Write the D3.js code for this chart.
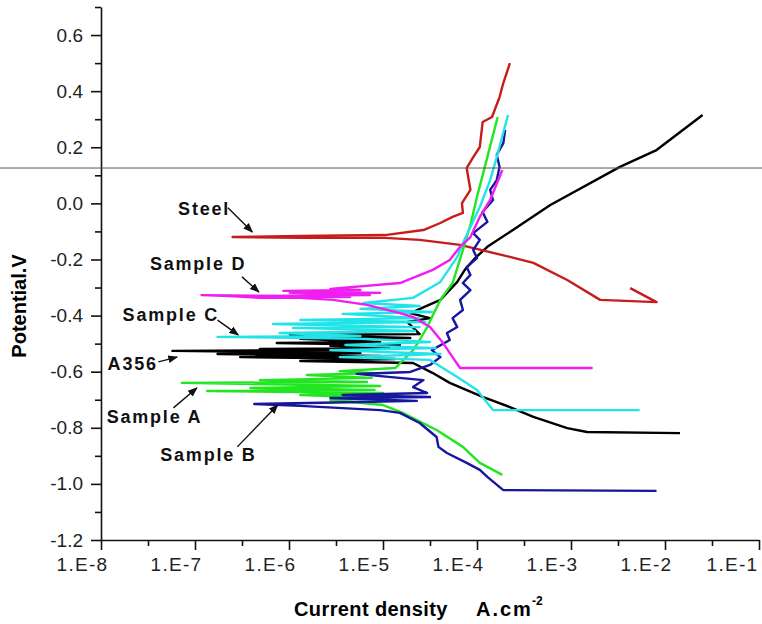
<!DOCTYPE html>
<html>
<head>
<meta charset="utf-8">
<script src="https://cdn.jsdelivr.net/npm/d3@7"></script>
<style>
  body { margin: 0; background: #fff; }
  text { font-family: "Liberation Sans", Arial, sans-serif; }
</style>
</head>
<body>
<svg id="chart" width="762" height="624"></svg>
<script>
// polarization curves: [log10 current density (A/cm2), potential (V)]
const a356 = [
  [-1.84, -0.819], [-2.83, -0.815], [-3.04, -0.801], [-3.40, -0.761], [-3.65, -0.726],
  [-3.94, -0.690], [-4.29, -0.640], [-4.47, -0.605], [-4.68, -0.569], [-5.88, -0.562],
  [-4.87, -0.555], [-6.52, -0.548], [-5.03, -0.544], [-6.76, -0.537], [-5.24, -0.533],
  [-7.24, -0.526], [-5.35, -0.523], [-6.31, -0.519], [-4.93, -0.516], [-5.56, -0.508],
  [-4.82, -0.505], [-6.13, -0.498], [-5.03, -0.494], [-5.88, -0.483], [-4.71, -0.480],
  [-5.99, -0.469], [-4.61, -0.466], [-4.74, -0.423], [-4.50, -0.409], [-4.71, -0.391],
  [-4.39, -0.344], [-4.21, -0.280], [-4.13, -0.237], [-4.02, -0.195], [-3.89, -0.155],
  [-3.65, -0.102], [-3.22, -0.006], [-2.48, 0.130], [-2.09, 0.190], [-1.60, 0.315]
];
const steel = [
  [-2.37, -0.302], [-2.09, -0.352], [-2.69, -0.344], [-3.04, -0.273], [-3.40, -0.212],
  [-3.65, -0.191], [-4.18, -0.148], [-4.61, -0.130], [-4.98, -0.123], [-5.88, -0.123],
  [-6.60, -0.120], [-5.88, -0.116], [-4.98, -0.113], [-4.57, -0.095], [-4.39, -0.070],
  [-4.26, -0.048], [-4.15, -0.034], [-4.16, 0.001], [-4.07, 0.048], [-4.11, 0.126],
  [-4.04, 0.165], [-3.97, 0.201], [-3.94, 0.290], [-3.84, 0.308], [-3.76, 0.379],
  [-3.72, 0.429], [-3.65, 0.500]
];
const sampleA = [
  [-3.73, -0.968], [-3.97, -0.925], [-4.15, -0.868], [-4.43, -0.808], [-4.79, -0.747],
  [-5.00, -0.719], [-5.56, -0.701], [-4.93, -0.694], [-5.88, -0.683], [-5.00, -0.676],
  [-6.87, -0.669], [-5.09, -0.665], [-6.41, -0.658], [-5.03, -0.651], [-7.14, -0.640],
  [-5.17, -0.637], [-6.31, -0.630], [-5.12, -0.622], [-5.81, -0.612], [-5.09, -0.605],
  [-5.46, -0.598], [-4.87, -0.587], [-4.68, -0.523], [-4.61, -0.487], [-4.53, -0.441],
  [-4.39, -0.344], [-4.26, -0.284], [-4.20, -0.220], [-4.15, -0.166], [-4.07, -0.077],
  [-4.00, 0.023], [-3.89, 0.165], [-3.78, 0.308]
];
const sampleB = [
  [-2.09, -1.025], [-3.72, -1.022], [-3.89, -0.975], [-3.97, -0.950], [-4.11, -0.925],
  [-4.32, -0.890], [-4.41, -0.868], [-4.43, -0.833], [-4.61, -0.783], [-4.82, -0.747],
  [-5.03, -0.737], [-5.88, -0.722], [-6.37, -0.715], [-5.24, -0.708], [-4.64, -0.704],
  [-5.56, -0.694], [-4.50, -0.690], [-5.43, -0.683], [-4.53, -0.676], [-4.68, -0.655],
  [-4.57, -0.630], [-5.28, -0.608], [-4.71, -0.601], [-4.50, -0.576], [-4.39, -0.548],
  [-4.48, -0.523], [-4.29, -0.487], [-4.32, -0.462], [-4.21, -0.441], [-4.26, -0.409],
  [-4.15, -0.380], [-4.18, -0.344], [-4.07, -0.309], [-4.15, -0.284], [-4.07, -0.255],
  [-4.11, -0.227], [-4.00, -0.195], [-4.04, -0.166], [-3.97, -0.130], [-4.04, -0.106],
  [-3.89, -0.066], [-3.94, -0.031], [-3.83, 0.012], [-3.86, 0.048], [-3.79, 0.083],
  [-3.76, 0.130], [-3.79, 0.173], [-3.72, 0.215], [-3.70, 0.262]
];
const sampleC = [
  [-2.27, -0.737], [-3.83, -0.737], [-4.00, -0.665], [-4.21, -0.619], [-4.50, -0.558],
  [-5.46, -0.548], [-4.39, -0.537], [-5.56, -0.523], [-4.44, -0.516], [-5.40, -0.505],
  [-4.50, -0.494], [-5.17, -0.483], [-6.76, -0.476], [-5.24, -0.473], [-6.10, -0.462],
  [-4.66, -0.455], [-5.96, -0.444], [-4.61, -0.441], [-6.17, -0.430], [-4.55, -0.423],
  [-5.88, -0.416], [-4.61, -0.409], [-5.43, -0.394], [-4.48, -0.387], [-5.24, -0.376],
  [-4.61, -0.366], [-5.21, -0.355], [-4.68, -0.337], [-4.39, -0.280], [-4.21, -0.191],
  [-4.15, -0.141], [-4.07, -0.084], [-3.97, -0.013], [-3.86, 0.083], [-3.79, 0.165],
  [-3.67, 0.315]
];
const sampleD = [
  [-2.77, -0.587], [-4.18, -0.587], [-4.26, -0.548], [-4.36, -0.498], [-4.50, -0.441],
  [-4.68, -0.405], [-4.82, -0.391], [-5.17, -0.362], [-5.53, -0.344], [-5.88, -0.337],
  [-6.31, -0.337], [-6.63, -0.330], [-6.93, -0.327], [-5.35, -0.334], [-6.41, -0.330],
  [-5.14, -0.327], [-5.99, -0.319], [-5.03, -0.319], [-6.06, -0.312], [-5.24, -0.309],
  [-5.56, -0.305], [-4.82, -0.284], [-4.47, -0.237], [-4.29, -0.202], [-4.18, -0.155],
  [-4.07, -0.120], [-3.97, -0.048], [-3.86, 0.012], [-3.73, 0.119]
];

const seriesNames = ["A356", "Steel", "Sample A", "Sample B", "Sample C", "Sample D"];
const seriesData = [a356, steel, sampleA, sampleB, sampleC, sampleD];
const seriesColors = ["#000000", "#c81c1c", "#22e622", "#16169e", "#22e4e8", "#f01ef0"];

// label text, label anchor and arrow (data units: log10 current, potential)
const labelText = ["Steel", "Sample D", "Sample C", "A356", "Sample A", "Sample B"];
const labelAt = [[-7.18, -0.041], [-7.48, -0.237], [-7.77, -0.419], [-7.93, -0.594], [-7.94, -0.783], [-7.37, -0.918]];
const arrowFrom = [[-6.65, -0.016], [-6.50, -0.262], [-6.76, -0.416], [-7.39, -0.565], [-7.23, -0.729], [-6.55, -0.868]];
const arrowTo = [[-6.39, -0.102], [-6.32, -0.316], [-6.54, -0.469], [-7.19, -0.548], [-6.98, -0.658], [-6.12, -0.719]];

const xMajor = [1e-8, 1e-7, 1e-6, 1e-5, 1e-4, 1e-3, 1e-2, 1e-1];
const xLabels = ["1.E-8", "1.E-7", "1.E-6", "1.E-5", "1.E-4", "1.E-3", "1.E-2", "1.E-1"];
const xMinor = [-7.5, -6.5, -5.5, -4.5, -3.5, -2.5, -1.5].map(e => Math.pow(10, e));
const yMajor = [-1.2, -1.0, -0.8, -0.6, -0.4, -0.2, 0.0, 0.2, 0.4, 0.6];
const yMinor = [-1.1, -0.9, -0.7, -0.5, -0.3, -0.1, 0.1, 0.3, 0.5, 0.7];
const ruleLevel = 0.126; // stray horizontal line across the figure

const svg = d3.select("#chart");
const x = d3.scaleLog().domain([1e-8, 1e-1]).range([101, 759]);
const y = d3.scaleLinear().domain([-1.2, 0.7]).range([540, 7]);
const px = d => x(Math.pow(10, d[0]));
const py = d => y(d[1]);

// curves
const line = d3.line().x(px).y(py);
svg.append("g")
  .selectAll("path")
  .data(seriesData)
  .join("path")
  .attr("d", line)
  .attr("fill", "none")
  .attr("stroke", (d, i) => seriesColors[i])
  .attr("stroke-width", 2.4)
  .attr("stroke-linejoin", "round");

// axes
const axisStyle = g => {
  g.attr("color", "#111");
  g.selectAll("path, line").attr("stroke-width", 1.6);
  g.selectAll("text").style("font-size", "19px").attr("fill", "#222");
};
svg.append("g")
  .attr("transform", "translate(101,0)")
  .call(d3.axisLeft(y).tickValues(yMajor).tickSize(10).tickSizeOuter(0).tickPadding(8)
    .tickFormat(d => d.toFixed(1)))
  .call(axisStyle);
svg.append("g")
  .attr("transform", "translate(101,0)")
  .call(d3.axisLeft(y).tickValues(yMinor).tickSize(6).tickFormat(""))
  .call(g => g.select(".domain").remove())
  .call(axisStyle);
svg.append("g")
  .attr("transform", "translate(0,540)")
  .call(d3.axisBottom(x).tickValues(xMajor).tickSize(10).tickSizeOuter(0).tickPadding(8)
    .tickFormat((d, i) => xLabels[i]))
  .call(axisStyle)
  .call(g => g.selectAll("text")
    .attr("x", (d, i) => i === xLabels.length - 1 ? -27 : -19)
    .style("letter-spacing", "1.3px"));
svg.append("g")
  .attr("transform", "translate(0,540)")
  .call(d3.axisBottom(x).tickValues(xMinor).tickSize(6).tickFormat(""))
  .call(g => g.select(".domain").remove())
  .call(axisStyle);

// axis titles
svg.append("text")
  .attr("transform", "translate(26,306) rotate(-90)")
  .attr("text-anchor", "middle")
  .style("font-size", "20px").style("font-weight", "bold")
  .text("Potential.V");
const xt = svg.append("text")
  .attr("x", 294).attr("y", 616)
  .style("font-size", "20px").style("font-weight", "bold");
xt.append("tspan").style("letter-spacing", "0.4px").text("Current density");
xt.append("tspan").attr("x", 476).style("letter-spacing", "2px").text("A.cm");
xt.append("tspan").attr("dy", -11).attr("dx", -1).style("font-size", "12px").text("-2");

// labels with arrows
svg.append("defs").append("marker")
  .attr("id", "tip").attr("viewBox", "0 0 10 10")
  .attr("refX", 9).attr("refY", 5)
  .attr("markerWidth", 7).attr("markerHeight", 7)
  .attr("orient", "auto")
  .append("path").attr("d", "M0,1 L10,5 L0,9 Z").attr("fill", "#111");

const notes = svg.append("g");
notes.selectAll("line")
  .data(labelText)
  .join("line")
  .attr("x1", (d, i) => px(arrowFrom[i])).attr("y1", (d, i) => py(arrowFrom[i]))
  .attr("x2", (d, i) => px(arrowTo[i])).attr("y2", (d, i) => py(arrowTo[i]))
  .attr("stroke", "#111").attr("stroke-width", 1.4)
  .attr("marker-end", "url(#tip)");
notes.selectAll("text")
  .data(labelText)
  .join("text")
  .attr("x", (d, i) => px(labelAt[i])).attr("y", (d, i) => py(labelAt[i]))
  .style("font-size", "18px").style("font-weight", "bold")
  .style("letter-spacing", "1.8px").attr("fill", "#111")
  .text(d => d);

// thin horizontal rule crossing the whole figure
svg.append("line")
  .attr("x1", 0).attr("x2", 762)
  .attr("y1", y(ruleLevel)).attr("y2", y(ruleLevel))
  .attr("stroke", "#555").attr("stroke-width", 1);
</script>
</body>
</html>
